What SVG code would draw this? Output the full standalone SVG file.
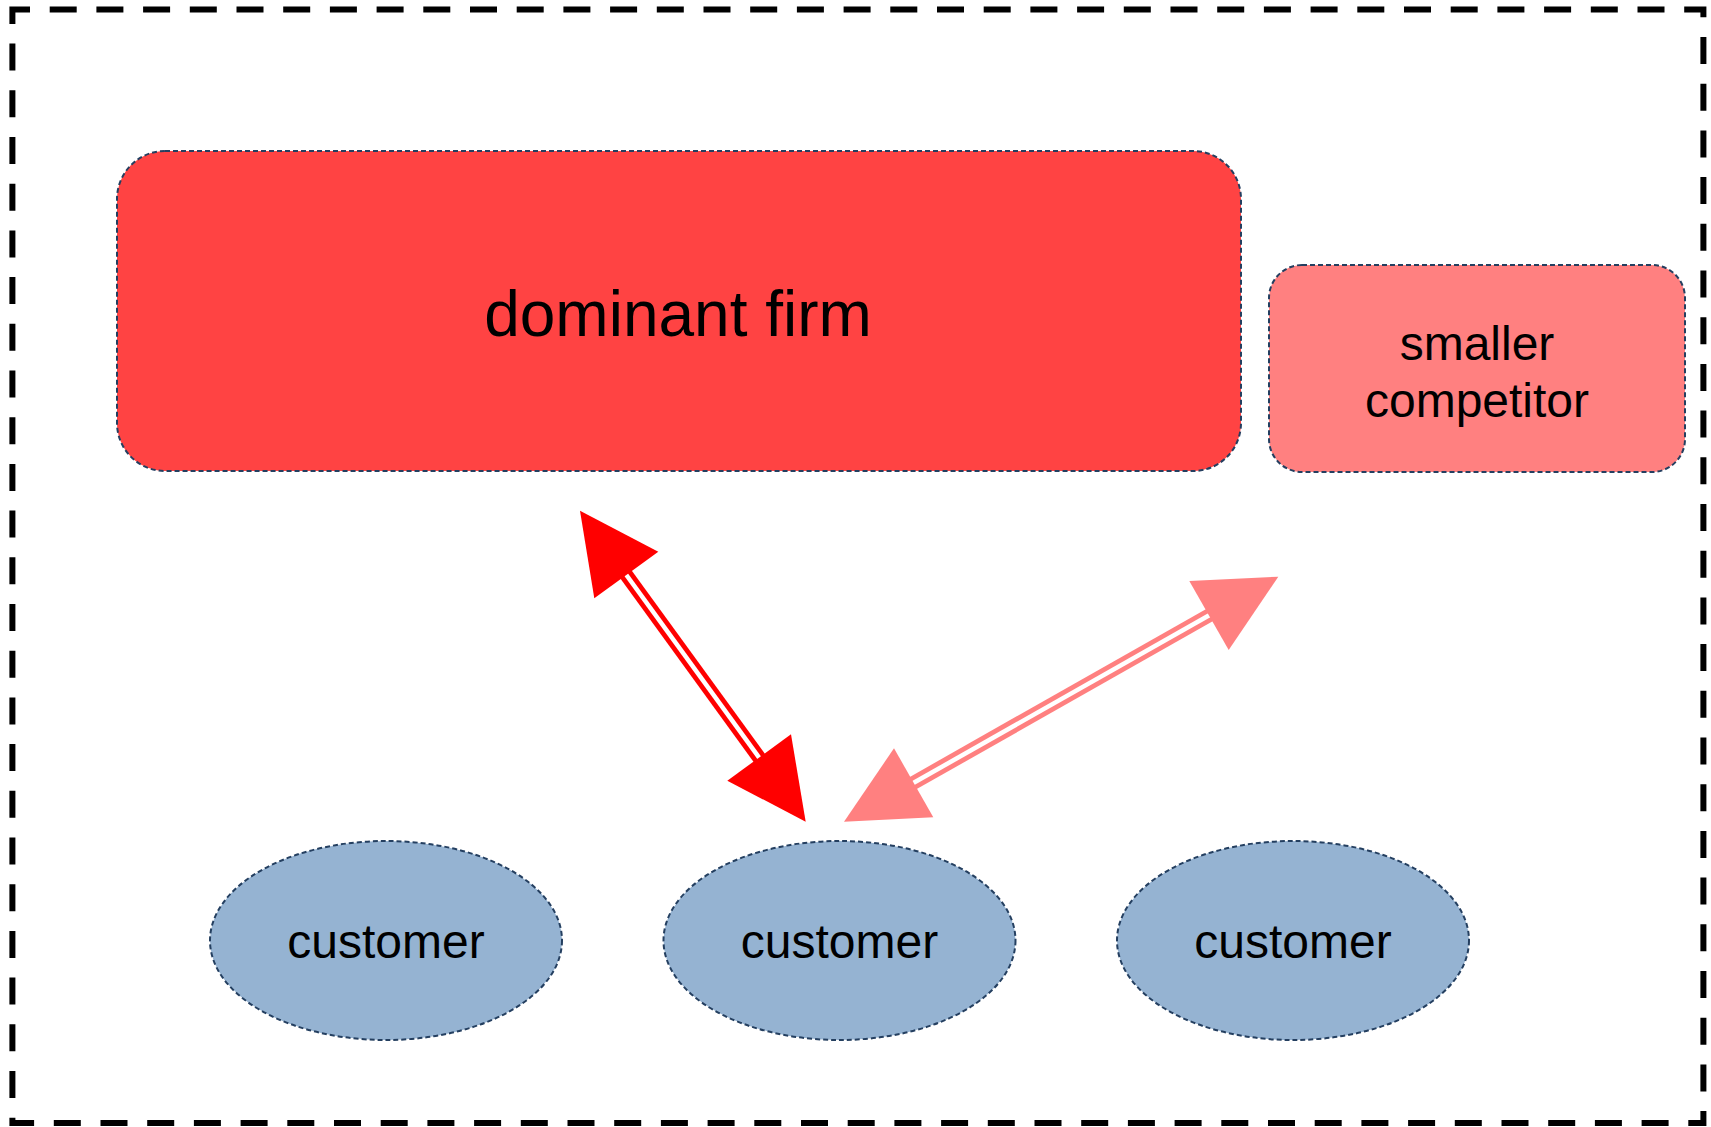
<svg xmlns="http://www.w3.org/2000/svg" width="1711" height="1127" viewBox="0 0 1711 1127">
  <style>
    .frame { fill: none; stroke: #000000; stroke-width: 6; stroke-dasharray: 27 19.7; stroke-dashoffset: 9.4; }
    .node { stroke: #243F60; stroke-width: 2; stroke-dasharray: 5 3; }
    .dominant { fill: #FF4343; }
    .competitor { fill: #FF8080; }
    .customer { fill: #95B3D2; }
    .label { font-family: "Liberation Sans", Arial, sans-serif; fill: #000000; text-anchor: middle; }
    .shaft-red { stroke: #FF0000; stroke-width: 14; fill: none; }
    .shaft-pink { stroke: #FF8080; stroke-width: 14; fill: none; }
    .gap { stroke: #FFFFFF; stroke-width: 4.5; fill: none; }
  </style>

  <!-- market boundary -->
  <rect class="frame" x="12.4" y="9.5" width="1691" height="1113.5"/>

  <g id="dominant-firm">
    <rect class="node dominant" x="117" y="151" width="1124" height="320" rx="48" ry="48"/>
    <text class="label" x="678" y="336" font-size="64">dominant firm</text>
  </g>

  <g id="smaller-competitor">
    <rect class="node competitor" x="1269" y="265" width="416" height="207" rx="33" ry="33"/>
    <text class="label" x="1477" y="360" font-size="48">smaller</text>
    <text class="label" x="1477" y="417" font-size="48">competitor</text>
  </g>

  <g id="customer-1">
    <ellipse class="node customer" cx="386" cy="940.5" rx="176" ry="99.5"/>
    <text class="label" x="386" y="958" font-size="48">customer</text>
  </g>

  <g id="customer-2">
    <ellipse class="node customer" cx="839.5" cy="940.5" rx="176" ry="99.5"/>
    <text class="label" x="839.5" y="958" font-size="48">customer</text>
  </g>

  <g id="customer-3">
    <ellipse class="node customer" cx="1293" cy="940.5" rx="176" ry="99.5"/>
    <text class="label" x="1293" y="958" font-size="48">customer</text>
  </g>

  <g id="connectors">
    <!-- dominant firm <-> customer -->
    <g id="edge-dominant-customer">
      <line class="shaft-red" x1="622" y1="569" x2="763" y2="763"/>
      <line class="gap" x1="622" y1="569" x2="763" y2="763"/>
      <polygon fill="#FF0000" points="580,510.7 658.3,551.7 594.3,598.3"/>
      <polygon fill="#FF0000" points="805.7,821.7 791,734.3 727.3,780.7"/>
    </g>
    <!-- smaller competitor <-> customer -->
    <g id="edge-competitor-customer">
      <line class="shaft-pink" x1="908" y1="786" x2="1215" y2="612"/>
      <line class="gap" x1="908" y1="786" x2="1215" y2="612"/>
      <polygon fill="#FF8080" points="1278.3,576.7 1189.3,581 1228.7,650"/>
      <polygon fill="#FF8080" points="844,821.7 894,748.3 933.3,817.3"/>
    </g>
  </g>
</svg>
